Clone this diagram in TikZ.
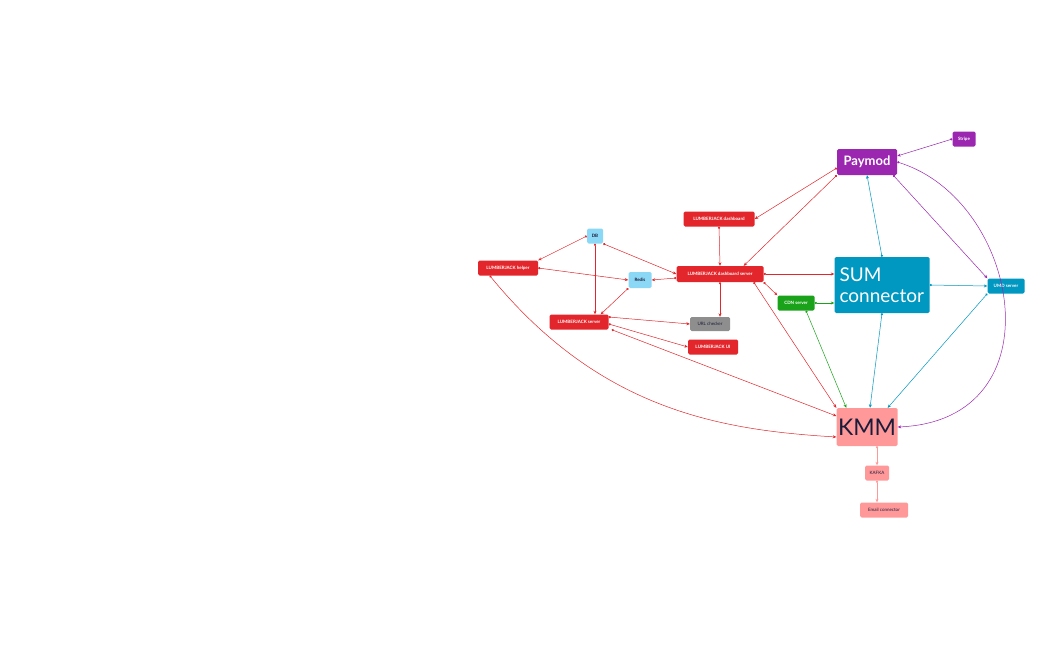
\documentclass[tikz,border=0pt]{standalone}
\usepackage{fontspec}
\setmainfont{Lato}
\usetikzlibrary{arrows.meta,calc}
\definecolor{red1}{HTML}{E2262B}
\definecolor{lblue}{HTML}{8AD8F5}
\definecolor{purp}{HTML}{9B27B0}
\definecolor{cyan1}{HTML}{0097C0}
\definecolor{grn}{HTML}{1AA31A}
\definecolor{pink1}{HTML}{FF9999}
\definecolor{navy}{HTML}{1B1B3A}
\definecolor{grey1}{HTML}{8E8E8E}
\tikzset{
 box/.style={rounded corners=1.5pt,inner sep=0pt,font=\fontsize{4.5}{5}\selectfont\bfseries,text=white},
 lj/.style={box,fill=red1},
 cn/.style={line width=0.5pt,{Circle[length=2.2pt]}-{Stealth[length=3.5pt,width=3pt]}},
}
\begin{document}
\begin{tikzpicture}[x=1pt,y=-1pt]
\useasboundingbox (0,0) rectangle (1051,650);
\node[box,fill=purp,minimum width=60pt,minimum height=26pt,font=\fontsize{13}{14}\selectfont\bfseries] (pay) at (867,162) {Paymod};
\node[box,fill=purp,minimum width=23pt,minimum height=15pt] (stripe) at (964,139) {Stripe};
\node[lj,minimum width=71pt,minimum height=15pt] (ljd) at (719,219) {LUMBERJACK dashboard};
\node[box,fill=lblue,text=navy,minimum width=16pt,minimum height=15pt] (db) at (595,236) {DB};
\node[lj,minimum width=60pt,minimum height=15pt] (ljh) at (508,268) {LUMBERJACK helper};
\node[box,fill=lblue,text=navy,minimum width=23pt,minimum height=16pt] (redis) at (640,280) {Redis};
\node[lj,minimum width=87pt,minimum height=16pt] (ljds) at (720,274) {LUMBERJACK dashboard server};
\node[box,fill=cyan1,minimum width=95pt,minimum height=56pt,align=left,font=\fontsize{19}{21}\selectfont,text width=85pt] (sum) at (882,285) {SUM\\connector};
\node[box,fill=cyan1,minimum width=37pt,minimum height=15pt] (umd) at (1006,286) {UMD server};
\node[box,fill=grn,minimum width=37pt,minimum height=15pt] (cdn) at (796,303) {CDN server};
\node[lj,minimum width=59pt,minimum height=15pt] (ljs) at (579,322) {LUMBERJACK server};
\node[box,fill=grey1,text=navy,font=\fontsize{4.5}{5}\selectfont,minimum width=40pt,minimum height=14pt] (url) at (710,324) {URL checker};
\node[lj,minimum width=50pt,minimum height=15pt] (lju) at (713,347) {LUMBERJACK UI};
\node[box,fill=pink1,text=navy,font=\fontsize{23}{25}\selectfont,minimum width=61pt,minimum height=38pt] (kmm) at (867,427) {KMM};
\node[box,fill=pink1,text=navy,font=\fontsize{4.5}{5}\selectfont,minimum width=24pt,minimum height=15pt] (kafka) at (877,473) {KAFKA};
\node[box,fill=pink1,text=navy,font=\fontsize{4.5}{5}\selectfont,minimum width=48pt,minimum height=15pt] (email) at (884,510) {Email connector};
% red
\begin{scope}[red1]
\draw[cn] (pay.west|-0,168) -- (ljd.east);
\draw[cn] (pay.south west) -- ($(ljds.north east)+(-20,0)$);
\draw[cn] (ljd.south) -- (ljds.north);
\draw[cn] (db.west) -- (ljh.north east);
\draw[cn] (db.south east) -- (ljds.west);
\draw[cn] (db.south) -- (db.south|-ljs.north);
\draw[cn] (ljh.east) -- (redis.west);
\draw[cn] (ljds.west|-0,278) -- (redis.east);
\draw[cn] (redis.south west) -- ($(ljs.north east)+(-8,0)$);
\draw[cn] (ljs.east|-0,317) -- (url.west);
\draw[cn] (ljs.east|-0,324) -- (lju.west);
\draw[cn] (ljds.south) -- (ljds.south|-url.north);
\draw[cn] (ljds.east) -- (sum.west|-ljds.east);
\draw[cn] (ljds.south east) -- (cdn.north west);
\draw[cn] ($(ljds.south east)+(-10,0)$) -- (kmm.north west);
\draw[cn] ($(ljs.south east)+(3,0)$) -- (kmm.west|-0,416);
\draw[cn] ($(ljh.south west)+(12,0)$) .. controls (600,410) and (720,430) .. (kmm.west|-0,437);
\end{scope}
\begin{scope}[grn]
\draw[cn] (cdn.east) -- (sum.west|-cdn.east);
\draw[cn] ($(cdn.south)+(10,0)$) -- ($(kmm.north west)+(10,0)$);
\end{scope}
\begin{scope}[cyan1]
\draw[cn] (sum.north) -- (pay.south);
\draw[cn] (sum.east) -- (umd.west);
\draw[cn] (sum.south) -- ($(kmm.north)+(3,0)$);
\draw[cn] (umd.south west) -- ($(kmm.north east)+(-10,0)$);
\end{scope}
\begin{scope}[purp]
\draw[cn] (stripe.west) -- ($(pay.east)+(0,-6)$);
\draw[cn] ($(pay.south east)+(-4,0)$) -- (umd.north west);
\draw[cn] (pay.east) .. controls (1020,200) and (1060,420) .. (kmm.east);
\end{scope}
\begin{scope}[pink1]
\coordinate (k1) at ($(kmm.south)+(10,0)$);
\draw[cn] (k1) -- (kafka.north -| k1);
\draw[cn] (kafka.south) -- (kafka.south|-email.north);
\end{scope}
\end{tikzpicture}
\end{document}
